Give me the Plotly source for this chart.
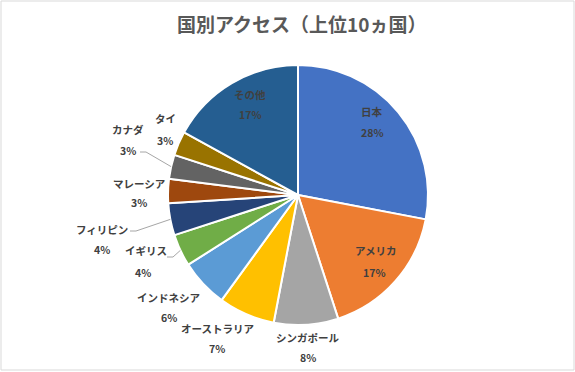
import math
import plotly.graph_objects as go

# ---- data ----
countries = ["日本", "アメリカ", "シンガポール", "オーストラリア", "インドネシア",
             "イギリス", "フィリピン", "マレーシア", "カナダ", "タイ", "その他"]
shares = [28, 17, 8, 7, 6, 4, 4, 3, 3, 3, 17]
colors = ["#4472C4", "#ED7D31", "#A5A5A5", "#FFC000", "#5B9BD5",
          "#70AD47", "#264478", "#9E480E", "#636363", "#997300", "#255E91"]
title_text = "国別アクセス（上位10ヵ国）"

# ---- layout (pixels) ----
W, H = 575, 372
CX, CY, R = 298, 195, 130
# label centres: (name x, name y, pct x, pct y)
label_pos = {
    "日本": (372, 112, 372, 132),
    "アメリカ": (375, 251, 374, 272),
    "シンガポール": (308, 337, 308, 357),
    "オーストラリア": (217, 328, 217, 348),
    "インドネシア": (169, 297, 169, 317),
    "イギリス": (146, 251, 143, 272),
    "フィリピン": (102, 229, 102, 250),
    "マレーシア": (139, 183, 139, 203),
    "カナダ": (128, 129, 128, 150),
    "タイ": (165, 119, 165, 140),
    "その他": (250, 94, 250, 115),
}
# leader line start points (pixels) for labels that need them
leader_start = {
    "カナダ": (140, 152),
    "フィリピン": (130, 231),
    "イギリス": (167, 257),
}


def px(x):
    return x / W


def py(y):
    return 1 - y / H


fig = go.Figure(go.Pie(
    labels=countries,
    values=shares,
    sort=False,
    direction="clockwise",
    rotation=0,
    marker=dict(colors=colors, line=dict(color="white", width=2)),
    textinfo="none",
    hoverinfo="label+percent",
    showlegend=False,
    domain=dict(x=[px(CX - R), px(CX + R)], y=[py(CY + R), py(CY - R)]),
))

font = dict(family="Noto Sans CJK JP", size=10.5, color="#404040")
annotations = []
total = sum(shares)
for name, val in zip(countries, shares):
    nx, ny, pxx, pyy = label_pos[name]
    pct = round(val / total * 100)
    annotations.append(dict(x=px(nx), y=py(ny), xref="paper", yref="paper",
                            text=f"<b>{name}</b>", showarrow=False, font=font,
                            xanchor="center", yanchor="middle"))
    annotations.append(dict(x=px(pxx), y=py(pyy), xref="paper", yref="paper",
                            text=f"<b>{pct}%</b>", showarrow=False, font=font,
                            xanchor="center", yanchor="middle"))

annotations.append(dict(x=px(301), y=py(24), xref="paper", yref="paper",
                        text=f"<b>{title_text}</b>", showarrow=False,
                        font=dict(family="Noto Sans CJK JP", size=19, color="#595959"),
                        xanchor="center", yanchor="middle"))

shapes = []
# leader lines from label to slice edge midpoint (computed from the data)
cum = 0
for name, val in zip(countries, shares):
    mid = (cum + val / 2) / total * 2 * math.pi
    cum += val
    if name in leader_start:
        sx, sy = leader_start[name]
        ex = CX + R * math.sin(mid)
        ey = CY - R * math.cos(mid)
        kx = sx + 6
        shapes.append(dict(type="line", xref="paper", yref="paper",
                           x0=px(sx), y0=py(sy), x1=px(kx), y1=py(sy),
                           line=dict(color="#A6A6A6", width=1)))
        shapes.append(dict(type="line", xref="paper", yref="paper",
                           x0=px(kx), y0=py(sy), x1=px(ex), y1=py(ey),
                           line=dict(color="#A6A6A6", width=1)))

shapes.append(dict(type="rect", xref="paper", yref="paper",
                   x0=px(1), y0=py(H - 2), x1=px(W - 1), y1=py(1),
                   line=dict(color="#D9D9D9", width=1)))

fig.update_layout(
    width=W, height=H,
    margin=dict(l=0, r=0, t=0, b=0),
    paper_bgcolor="white",
    plot_bgcolor="white",
    annotations=annotations,
    shapes=shapes,
)

fig.write_html(
    "out.html",
    config={"displayModeBar": False},
    post_script="document.body.style.margin='0';document.body.style.overflow='hidden';",
)
